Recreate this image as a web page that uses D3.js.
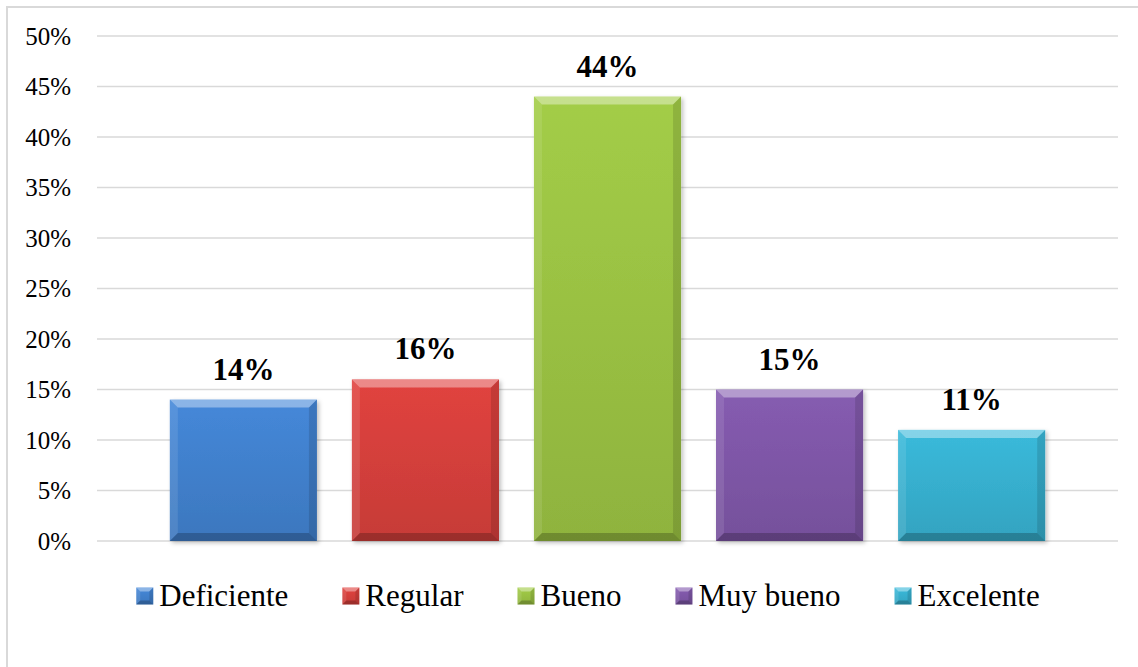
<!DOCTYPE html>
<html lang="es">
<head>
<meta charset="UTF-8">
<title>Valoración</title>
<script src="https://d3js.org/d3.v7.min.js"></script>
<style>
  body, html { margin: 0; padding: 0; background: #fff; overflow: hidden; }
  svg { display: block; }
  text { font-family: "Liberation Serif", "Times New Roman", serif; fill: #000; }
  .tick-label { font-size: 25px; }
  .value-label { font-size: 31px; font-weight: bold; }
  .legend-label { font-size: 31px; }
</style>
</head>
<body>
<svg></svg>
<script>
  const categories = ["Deficiente", "Regular", "Bueno", "Muy bueno", "Excelente"];
  const values = [14, 16, 44, 15, 11];
  const colors = ["#4282d0", "#d8403c", "#9cc444", "#8058aa", "#38b2d2"];
  const tickValues = [0, 5, 10, 15, 20, 25, 30, 35, 40, 45, 50];

  const width = 1138, height = 667;
  const svg = d3.select("svg").attr("width", width).attr("height", height);

  const plot = { left: 97, right: 1118, top: 36, bottom: 541 };

  // chart frame (runs off the right and bottom edges)
  svg.append("rect")
    .attr("x", 7).attr("y", 7)
    .attr("width", width + 20).attr("height", height + 20)
    .attr("fill", "none").attr("stroke", "#d9d9d9").attr("stroke-width", 2);

  const x = d3.scaleBand()
    .domain(categories)
    .range([plot.left, plot.right])
    .paddingInner(0.192)
    .paddingOuter(0.4);

  const y = d3.scaleLinear().domain([0, 50]).range([plot.bottom, plot.top]);

  const defs = svg.append("defs");
  categories.forEach((c, i) => {
    const base = d3.color(colors[i]);
    const g = defs.append("linearGradient")
      .attr("id", "grad" + i).attr("x1", 0).attr("y1", 0).attr("x2", 0).attr("y2", 1);
    g.append("stop").attr("offset", "0%").attr("stop-color", base.brighter(0.12));
    g.append("stop").attr("offset", "100%").attr("stop-color", base.darker(0.25));
  });
  const shadow = defs.append("filter").attr("id", "shadow")
    .attr("x", "-10%").attr("y", "-10%").attr("width", "130%").attr("height", "130%");
  shadow.append("feDropShadow")
    .attr("dx", 2).attr("dy", 2).attr("stdDeviation", 2)
    .attr("flood-color", "#000").attr("flood-opacity", 0.25);

  // gridlines
  svg.append("g").selectAll("line")
    .data(tickValues)
    .enter().append("line")
    .attr("x1", plot.left).attr("x2", plot.right)
    .attr("y1", d => y(d)).attr("y2", d => y(d))
    .attr("stroke", "#d9d9d9").attr("stroke-width", 1.5);

  // tick labels
  svg.append("g").selectAll("text")
    .data(tickValues)
    .enter().append("text")
    .attr("class", "tick-label")
    .attr("x", 71).attr("y", d => y(d))
    .attr("dy", "0.35em")
    .attr("text-anchor", "end")
    .text(d => d + "%");

  // bevelled bars
  function bevel(sel, x0, y0, w, h, b) {
    const x1 = x0 + w, y1 = y0 + h;
    const pts = [
      { p: [[x0, y0], [x1, y0], [x1 - b, y0 + b], [x0 + b, y0 + b]], f: "#fff", o: 0.38 },
      { p: [[x0, y0], [x0 + b, y0 + b], [x0 + b, y1 - b], [x0, y1]], f: "#fff", o: 0.1 },
      { p: [[x1, y0], [x1, y1], [x1 - b, y1 - b], [x1 - b, y0 + b]], f: "#000", o: 0.12 },
      { p: [[x0, y1], [x0 + b, y1 - b], [x1 - b, y1 - b], [x1, y1]], f: "#000", o: 0.22 }
    ];
    pts.forEach(d => {
      sel.append("polygon")
        .attr("points", d.p.map(q => q.join(",")).join(" "))
        .attr("fill", d.f).attr("fill-opacity", d.o);
    });
  }

  const bars = svg.append("g");
  categories.forEach((c, i) => {
    const bx = x(c), by = y(values[i]), bw = x.bandwidth(), bh = y(0) - y(values[i]);
    const g = bars.append("g");
    g.append("rect")
      .attr("x", bx).attr("y", by).attr("width", bw).attr("height", bh)
      .attr("fill", "url(#grad" + i + ")")
      .attr("filter", "url(#shadow)");
    bevel(g, bx, by, bw, bh, 8);
  });

  // value labels
  svg.append("g").selectAll("text")
    .data(categories)
    .enter().append("text")
    .attr("class", "value-label")
    .attr("x", d => x(d) + x.bandwidth() / 2)
    .attr("y", (d, i) => y(values[i]) - 20)
    .attr("text-anchor", "middle")
    .text((d, i) => values[i] + "%");

  // legend
  const legend = svg.append("g");
  const markerSize = 17, textGap = 6, itemGap = 54, legendY = 596;
  let cursor = 0;
  categories.forEach((c, i) => {
    const g = legend.append("g");
    g.append("rect")
      .attr("x", 0).attr("y", -markerSize / 2)
      .attr("width", markerSize).attr("height", markerSize)
      .attr("fill", "url(#grad" + i + ")");
    bevel(g, 0, -markerSize / 2, markerSize, markerSize, 4);
    const t = g.append("text")
      .attr("class", "legend-label")
      .attr("x", markerSize + textGap).attr("y", 0)
      .attr("dy", "0.33em")
      .text(c);
    const w = markerSize + textGap + t.node().getComputedTextLength();
    g.attr("transform", `translate(${cursor},0)`);
    cursor += w + itemGap;
  });
  const total = cursor - itemGap;
  legend.attr("transform", `translate(${588 - total / 2},${legendY})`);
</script>
</body>
</html>
